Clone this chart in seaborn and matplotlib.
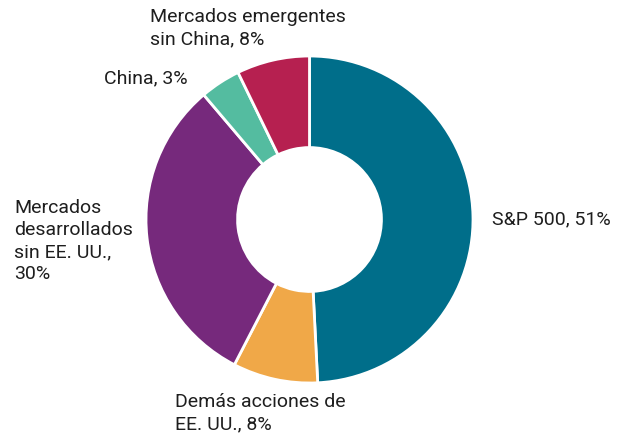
import matplotlib
matplotlib.use("Agg")
import matplotlib.pyplot as plt
import seaborn as sns

# datos (tamaño de las porciones)
segmentos = ["S&P 500", "Demás acciones de EE. UU.", "Mercados desarrollados sin EE. UU.",
             "China", "Mercados emergentes sin China"]
porciones = [49.2, 8.4, 31.2, 4.0, 7.2]
etiquetas = ["S&P 500, 51%", "Demás acciones de\nEE. UU., 8%",
             "Mercados\ndesarrollados\nsin EE. UU.,\n30%", "China, 3%",
             "Mercados emergentes\nsin China, 8%"]
colores = ["#006E8A", "#F0A848", "#76297C", "#54BCA0", "#B62050"]

sns.set_theme(style="white")
plt.rcParams["font.family"] = ["Roboto", "DejaVu Sans"]

W, H = 624, 434
fig = plt.figure(figsize=(W / 100, H / 100), dpi=100)
ax = fig.add_axes([0, 0, 1, 1])

cx, cy, r = 309.5, H - 219.5, 163.5
ax.pie(porciones, colors=sns.color_palette(colores), startangle=90, counterclock=False,
       center=(cx, cy), radius=r, frame=True,
       wedgeprops=dict(width=r * 0.56, edgecolor="white", linewidth=2))
ax.set_xlim(0, W)
ax.set_ylim(0, H)
ax.set_aspect("equal")
ax.axis("off")

# posiciones de las etiquetas (px desde arriba)
pos = [(492, 219), (175, 413), (14, 241), (104, 78), (150, 28.5)]
for txt, (x, y) in zip(etiquetas, pos):
    ax.text(x, H - y, txt, ha="left", va="center", fontsize=14, color="#1e1e1e",
            linespacing=1.3)

fig.savefig("out.png", dpi=100)
